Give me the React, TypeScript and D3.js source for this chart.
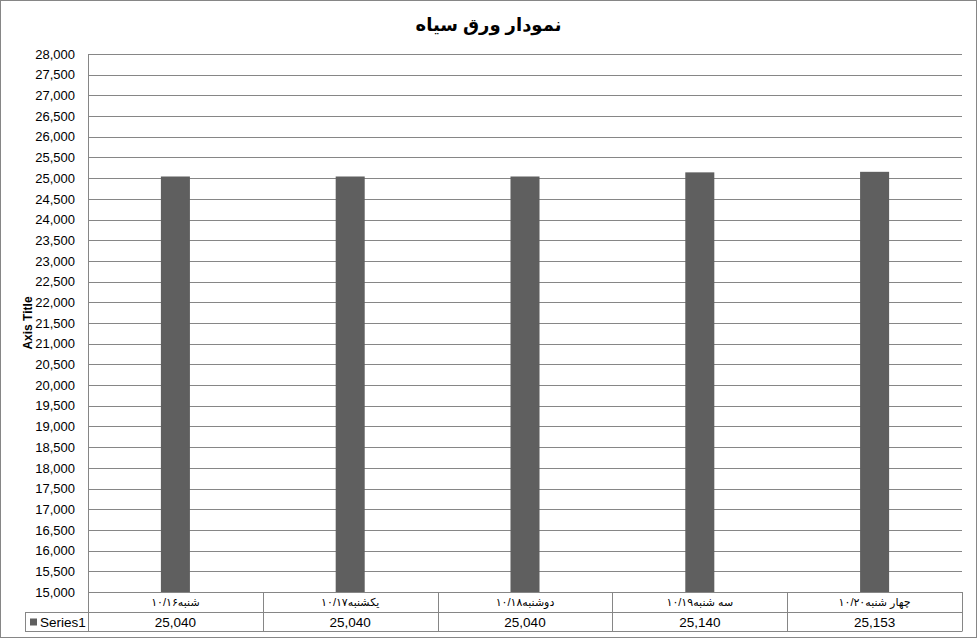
import React, { useEffect, useRef } from 'react';
import * as d3 from 'd3';

const categories = [
  'شنبه۱۰/۱۶',
  'یکشنبه۱۰/۱۷',
  'دوشنبه۱۰/۱۸',
  'سه شنبه۱۰/۱۹',
  'چهار شنبه۱۰/۲۰',
];
const seriesName = 'Series1';
const values = [25040, 25040, 25040, 25140, 25153];
const yTicks = d3.range(15000, 28001, 500);
const title = 'نمودار ورق سیاه';
const axisTitle = 'Axis Title';

const W = 977;
const H = 639;
const GRID = '#868686';
const BAR = '#5f5f5f';
const FONT = '"Liberation Sans", Arial, "DejaVu Sans", sans-serif';

const App: React.FC = () => {
  const svgRef = useRef<SVGSVGElement>(null);

  useEffect(() => {
    if (!svgRef.current) return;
    const margin = { top: 54, right: 15, bottom: 47, left: 88 };
    const plotW = W - margin.left - margin.right;
    const plotH = H - margin.top - margin.bottom;
    const rowH = 19.5;
    const legendLeft = 25;

    const svg = d3.select(svgRef.current);
    svg.selectAll('*').remove();

    // outer chart border
    svg.append('rect')
      .attr('x', 0.5).attr('y', 0.5)
      .attr('width', W - 1).attr('height', H - 2)
      .attr('fill', '#fff')
      .attr('stroke', GRID);

    svg.append('text')
      .attr('x', W / 2)
      .attr('y', 31)
      .attr('text-anchor', 'middle')
      .attr('font-family', FONT)
      .attr('font-weight', 'bold')
      .attr('font-size', 18)
      .attr('fill', '#000')
      .text(title);

    const g = svg.append('g').attr('transform', `translate(${margin.left},${margin.top})`);

    const x = d3.scaleBand<string>()
      .domain(categories)
      .range([0, plotW])
      .paddingInner(0)
      .paddingOuter(0);

    const y = d3.scaleLinear()
      .domain([15000, 28000])
      .range([plotH, 0]);

    // gridlines
    g.append('g')
      .selectAll('line')
      .data(yTicks)
      .join('line')
      .attr('x1', 0).attr('x2', plotW)
      .attr('y1', d => Math.round(y(d)) + 0.5)
      .attr('y2', d => Math.round(y(d)) + 0.5)
      .attr('stroke', GRID);

    // y axis
    const yAxis = g.append('g')
      .call(d3.axisLeft(y).tickValues(yTicks).tickFormat(d3.format(',')).tickSize(0).tickPadding(13));
    yAxis.select('.domain').attr('stroke', GRID).attr('d', `M0.5,0V${plotH}`);
    yAxis.selectAll('text')
      .attr('font-family', FONT)
      .attr('font-size', 13)
      .attr('fill', '#000');

    svg.append('text')
      .attr('transform', `translate(32,${margin.top + plotH / 2}) rotate(-90)`)
      .attr('text-anchor', 'middle')
      .attr('font-family', FONT)
      .attr('font-weight', 'bold')
      .attr('font-size', 12)
      .attr('fill', '#000')
      .text(axisTitle);

    // bars
    const barW = x.bandwidth() * 0.166;
    g.append('g')
      .selectAll('rect')
      .data(values)
      .join('rect')
      .attr('x', (_, i) => x(categories[i])! + x.bandwidth() / 2 - barW / 2)
      .attr('y', d => y(d))
      .attr('width', barW)
      .attr('height', d => plotH - y(d))
      .attr('fill', BAR);

    // data table
    const t = g.append('g').attr('transform', `translate(0,${plotH})`);
    const lx = legendLeft - margin.left;
    const hl = [
      { x1: 0, y: 0 },
      { x1: lx, y: rowH },
      { x1: lx, y: rowH * 2 },
    ];
    t.selectAll('line.h')
      .data(hl)
      .join('line')
      .attr('class', 'h')
      .attr('x1', d => d.x1).attr('x2', plotW)
      .attr('y1', d => Math.round(d.y) + 0.5).attr('y2', d => Math.round(d.y) + 0.5)
      .attr('stroke', GRID);

    const bounds = categories.map(c => x(c)!).concat([plotW]);
    t.selectAll('line.v')
      .data(bounds)
      .join('line')
      .attr('class', 'v')
      .attr('x1', d => Math.round(d) + 0.5).attr('x2', d => Math.round(d) + 0.5)
      .attr('y1', 0).attr('y2', Math.round(rowH * 2) + 0.5)
      .attr('stroke', GRID);
    t.append('line')
      .attr('x1', lx + 0.5).attr('x2', lx + 0.5)
      .attr('y1', Math.round(rowH)).attr('y2', Math.round(rowH * 2) + 0.5)
      .attr('stroke', GRID);

    t.selectAll('text.cat')
      .data(categories)
      .join('text')
      .attr('class', 'cat')
      .attr('x', d => x(d)! + x.bandwidth() / 2)
      .attr('y', 14)
      .attr('text-anchor', 'middle')
      .attr('direction', 'rtl')
      .attr('font-family', FONT)
      .attr('font-size', 11)
      .attr('fill', '#000')
      .text(d => d);

    t.selectAll('text.val')
      .data(values)
      .join('text')
      .attr('class', 'val')
      .attr('x', (_, i) => x(categories[i])! + x.bandwidth() / 2)
      .attr('y', rowH + 15)
      .attr('text-anchor', 'middle')
      .attr('font-family', FONT)
      .attr('font-size', 13.5)
      .attr('fill', '#000')
      .text(d => d3.format(',')(d));

    // legend key in table
    t.append('rect')
      .attr('x', lx + 5).attr('y', rowH + 7)
      .attr('width', 7).attr('height', 7)
      .attr('fill', BAR);
    t.append('text')
      .attr('x', lx + 15)
      .attr('y', rowH + 15)
      .attr('font-family', FONT)
      .attr('font-size', 13.5)
      .attr('fill', '#000')
      .text(seriesName);
  }, []);

  return (
    <div style={{ position: 'absolute', left: 0, top: 0, width: W, height: H, background: '#fff' }}>
      <svg ref={svgRef} width={W} height={H} />
    </div>
  );
};

export default App;
